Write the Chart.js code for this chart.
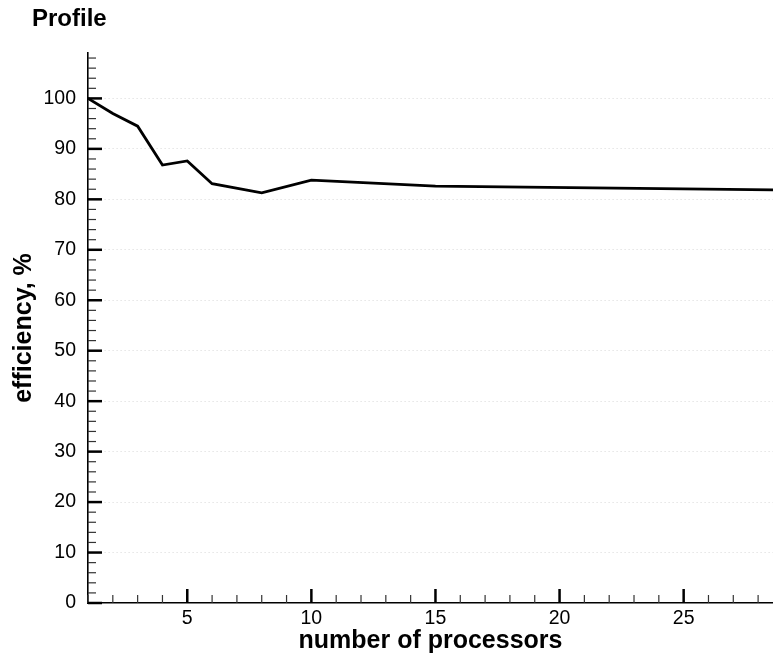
<!DOCTYPE html>
<html><head><meta charset="utf-8">
<script src="https://cdn.jsdelivr.net/npm/chart.js@4/dist/chart.umd.min.js"></script>
<style>html,body{margin:0;padding:0;background:#fff}#wrap{width:773px;height:658px}</style>
</head><body><div id="wrap"><canvas id="c" width="773" height="658"></canvas></div>
<script>
const chartTitle = "Profile";
const xTitle = "number of processors";
const yTitle = "efficiency, %";
const processors = [1, 2, 3, 4, 5, 6, 8, 10, 15, 30];
const efficiency = [100, 97.0, 94.5, 86.8, 87.6, 83.1, 81.3, 83.8, 82.6, 81.8];
const xTickLabels = [5, 10, 15, 20, 25];
const yTickLabels = [0, 10, 20, 30, 40, 50, 60, 70, 80, 90, 100];
const xRange = [1, 28.6];
const yRange = [0, 109];

const FONT = "'Liberation Sans', Arial, Helvetica, sans-serif";

const xMinor = [], yMinor = [];
for (let v = Math.ceil(xRange[0]); v <= xRange[1]; v += 1) if (!xTickLabels.includes(v)) xMinor.push(v);
for (let v = 2; v <= yRange[1]; v += 2) if (v % 10 !== 0) yMinor.push(v);

const innerTicks = {
  id: 'innerTicks',
  afterDraw(chart) {
    const ctx = chart.ctx, xs = chart.scales.x, ys = chart.scales.y, a = chart.chartArea;
    ctx.save();
    ctx.lineWidth = 1.2; ctx.strokeStyle = '#333';
    yMinor.forEach(v => { const p = ys.getPixelForValue(v); ctx.beginPath(); ctx.moveTo(a.left, p); ctx.lineTo(a.left + 8, p); ctx.stroke(); });
    xMinor.forEach(v => { const p = xs.getPixelForValue(v); ctx.beginPath(); ctx.moveTo(p, a.bottom); ctx.lineTo(p, a.bottom - 8); ctx.stroke(); });
    ctx.lineWidth = 2.5; ctx.strokeStyle = '#000';
    yTickLabels.forEach(v => { const p = ys.getPixelForValue(v); ctx.beginPath(); ctx.moveTo(a.left, p); ctx.lineTo(a.left + 14, p); ctx.stroke(); });
    xTickLabels.forEach(v => { const p = xs.getPixelForValue(v); ctx.beginPath(); ctx.moveTo(p, a.bottom); ctx.lineTo(p, a.bottom - 14); ctx.stroke(); });
    ctx.fillStyle = '#000';
    ctx.font = 'bold 24px ' + FONT;
    ctx.textAlign = 'left'; ctx.textBaseline = 'middle';
    ctx.fillText(chartTitle, 32, 19);
    ctx.restore();
  }
};

new Chart(document.getElementById('c'), {
  type: 'line',
  data: {
    datasets: [{
      data: processors.map((x, i) => ({x: x, y: efficiency[i]})),
      borderColor: '#000', borderWidth: 2.8, pointRadius: 0, tension: 0, fill: false
    }]
  },
  options: {
    responsive: false, animation: false,
    layout: { padding: { top: 53, left: 0, right: 0, bottom: 0 } },
    plugins: { legend: { display: false }, tooltip: { enabled: false } },
    scales: {
      x: {
        type: 'linear', min: xRange[0], max: xRange[1],
        afterBuildTicks: s => { s.ticks = xTickLabels.map(v => ({value: v})); },
        afterFit: s => { s.height = 55; },
        grid: { display: false, drawTicks: false },
        border: { display: true, color: '#000', width: 1.6 },
        ticks: { color: '#000', font: { family: FONT, size: 19.5 }, padding: 4, maxRotation: 0 },
        title: { display: true, text: xTitle, color: '#000', font: { family: FONT, size: 25, weight: 'bold' }, padding: { top: 0, bottom: 2 } }
      },
      y: {
        type: 'linear', min: yRange[0], max: yRange[1],
        afterBuildTicks: s => { s.ticks = yTickLabels.map(v => ({value: v})); },
        afterFit: s => { s.width = 88; },
        grid: { drawTicks: false, color: c => c.tick && c.tick.value === 0 ? 'rgba(0,0,0,0)' : '#d8d8d8', lineWidth: 1 },
        border: { display: true, color: '#000', width: 1.6, dash: [1, 3] },
        ticks: { color: '#000', font: { family: FONT, size: 19.5 }, padding: 12 },
        title: { display: true, text: yTitle, color: '#000', font: { family: FONT, size: 25, weight: 'bold' }, padding: { top: 9, bottom: 0 } }
      }
    }
  },
  plugins: [innerTicks]
});
</script></body></html>
